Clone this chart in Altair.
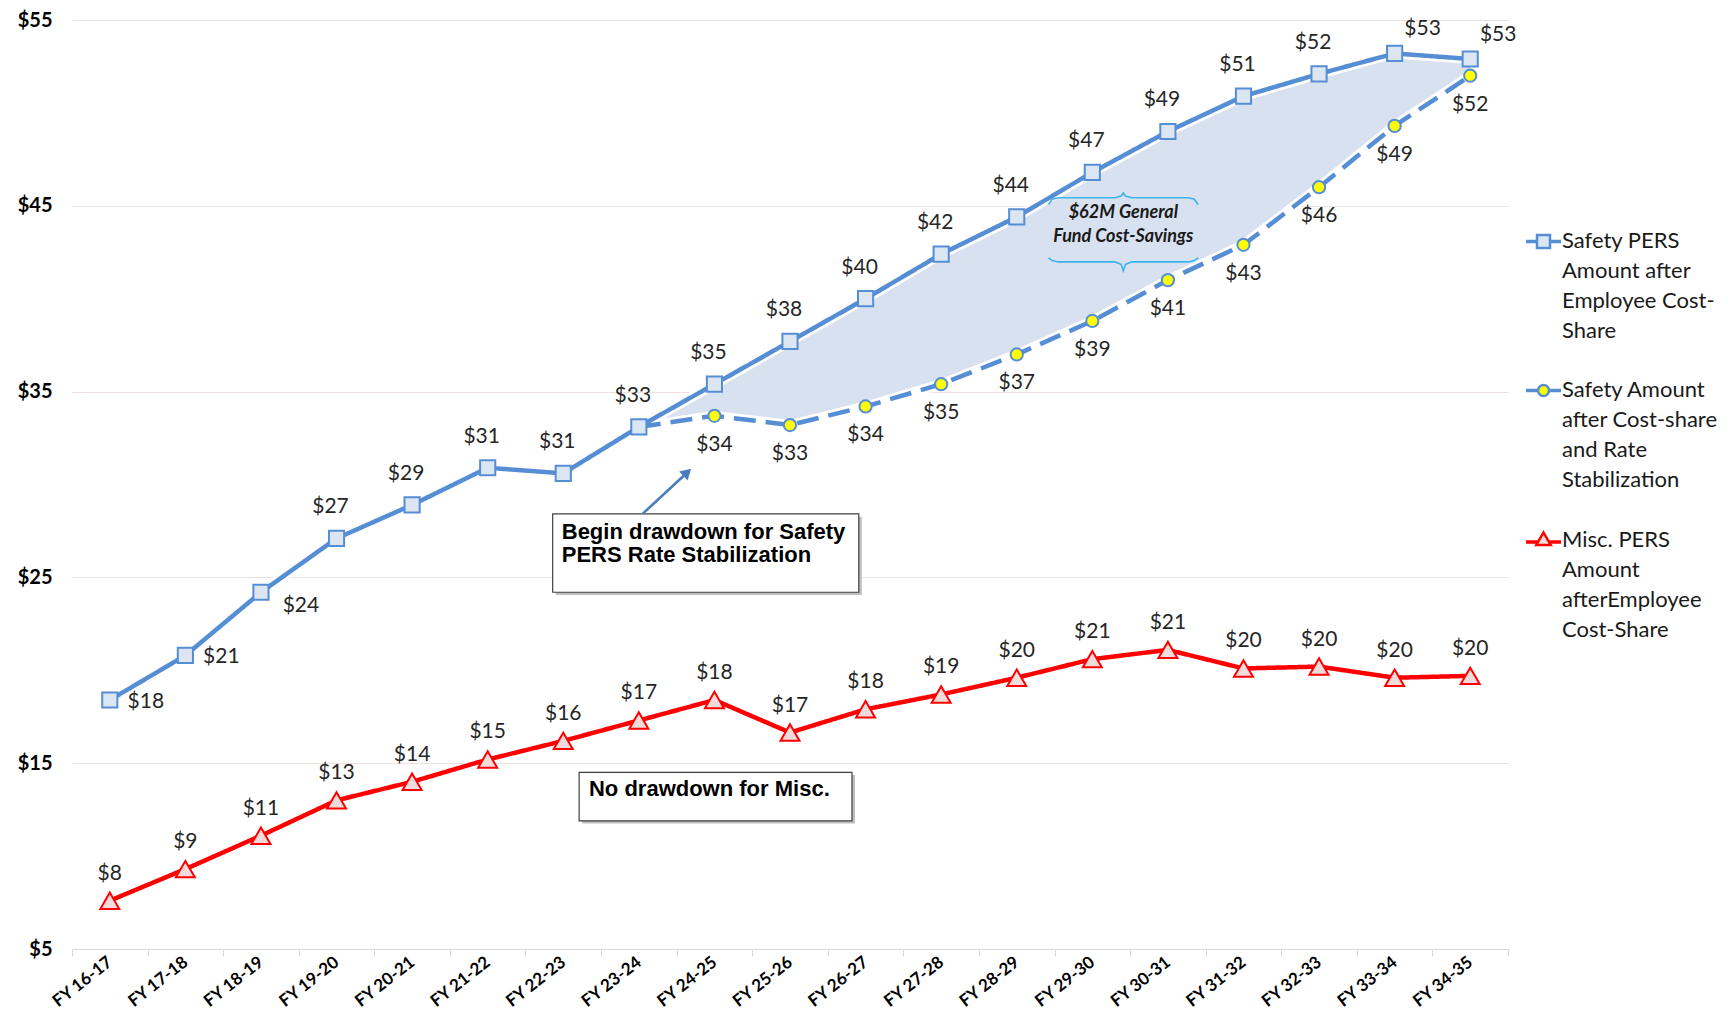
import altair as alt
import pandas as pd

# ---------------- data ----------------
years = ["FY 16-17", "FY 17-18", "FY 18-19", "FY 19-20", "FY 20-21", "FY 21-22",
         "FY 22-23", "FY 23-24", "FY 24-25", "FY 25-26", "FY 26-27", "FY 27-28",
         "FY 28-29", "FY 29-30", "FY 30-31", "FY 31-32", "FY 32-33", "FY 33-34",
         "FY 34-35"]
safety = [18.4, 20.8, 24.2, 27.1, 28.9, 30.9, 30.6, 33.1, 35.4, 37.7, 40.0, 42.4,
          44.4, 46.8, 49.0, 50.9, 52.1, 53.2, 52.9]
stab_years = ["FY 23-24", "FY 24-25", "FY 25-26", "FY 26-27", "FY 27-28", "FY 28-29",
              "FY 29-30", "FY 30-31", "FY 31-32", "FY 32-33", "FY 33-34", "FY 34-35"]
stabilized = [33.1, 33.7, 33.2, 34.2, 35.4, 37.0, 38.8, 41.0, 42.9, 46.0, 49.3, 52.0]
misc = [7.6, 9.3, 11.1, 13.0, 14.0, 15.2, 16.2, 17.3, 18.4, 16.65, 17.9, 18.7, 19.6,
        20.6, 21.1, 20.1, 20.2, 19.6, 19.7]

series_names = ["Safety PERS Amount after Employee Cost-Share",
                "Safety Amount after Cost-share and Rate Stabilization",
                "Misc. PERS Amount afterEmployee Cost-Share"]
legend_lines = [["Safety PERS", "Amount after", "Employee Cost-", "Share"],
                ["Safety Amount", "after Cost-share", "and Rate", "Stabilization"],
                ["Misc. PERS", "Amount", "afterEmployee", "Cost-Share"]]

y_ticks = [5, 15, 25, 35, 45, 55]

# label placement keywords (style, not data)
safety_pos = ["right", "right", "lowright"] + ["above"] * 14 + ["aboveright"] * 2
label_offsets = {"right": (36, 2), "lowright": (40, 14), "aboveright": (28, -24),
                 "above": (-6, -31), "below": (0, 29), "above_m": (0, -27)}

# annotation texts
box_texts = [("Begin drawdown for Safety", 5.98, 27.45),
             ("PERS Rate Stabilization", 5.98, 26.2),
             ("No drawdown for Misc.", 6.34, 13.6)]
savings_texts = [("$62M General", 13.41, 44.62), ("Fund Cost-Savings", 13.41, 43.33)]

# ---------------- tables ----------------
rows = []
for y, v, p in zip(years, safety, safety_pos):
    rows.append(dict(year=y, value=v, series=series_names[0], marker=True, pos=p))
for i, (y, v) in enumerate(zip(stab_years, stabilized)):
    rows.append(dict(year=y, value=v, series=series_names[1], marker=i > 0, pos="below"))
for y, v in zip(years, misc):
    rows.append(dict(year=y, value=v, series=series_names[2], marker=True, pos="above_m"))
df = pd.DataFrame(rows)

area_df = pd.DataFrame({"year": stab_years,
                        "top": safety[years.index("FY 23-24"):],
                        "bottom": stabilized})

BLUE = "#558ed5"
RED = "#ff0000"
FILLS = ["#dce6f2", "#ffff00", "#f2dcdb"]
STROKES = [BLUE, BLUE, RED]

x_axis = alt.Axis(title=None, tickBand="extent", domainColor="#d9d9d9", tickColor="#d9d9d9",
                  tickSize=7, grid=False, labelAngle=-38, labelAlign="right",
                  labelBaseline="middle", labelPadding=4, labelFont="Lato",
                  labelFontWeight="bold", labelFontSize=17, labelColor="#000000")
y_axis = alt.Axis(title=None, values=y_ticks, labelExpr="'$' + datum.value", ticks=False,
                  domain=False, grid=True, gridColor="#f1dede", gridWidth=1,
                  labelFont="Lato", labelFontWeight="bold", labelFontSize=20,
                  labelColor="#000000", labelPadding=20)

X = alt.X("year:N", sort=years,
          scale=alt.Scale(type="band", domain=years, paddingInner=0, paddingOuter=0),
          axis=x_axis)
Yscale = alt.Scale(domain=[5, 55], nice=False, zero=False)
Y = alt.Y("value:Q", scale=Yscale, axis=y_axis)

color = alt.Color("series:N", scale=alt.Scale(domain=series_names, range=STROKES), legend=None)
dash = alt.StrokeDash("series:N", scale=alt.Scale(domain=series_names,
                                                  range=[[1, 0], [22, 10], [1, 0]]),
                      legend=None)

base = alt.Chart(df)

area = alt.Chart(area_df).mark_area(color="#d8e1ef", opacity=1).encode(
    x=X, y=alt.Y("top:Q", scale=Yscale, axis=y_axis), y2="bottom:Q")

halo = base.transform_filter(f"datum.series != '{series_names[2]}'").mark_line(
    color="white", strokeWidth=10).encode(x=X, y=Y, detail="series:N")

lines = base.mark_line(strokeWidth=4.5).encode(x=X, y=Y, color=color, strokeDash=dash)

marker_shapes = ["square", "circle", "triangle-up"]
marker_sizes = [230, 150, 360]
point_layers = []
for name, shp, sz, fl, st in zip(series_names, marker_shapes, marker_sizes, FILLS, STROKES):
    point_layers.append(
        base.transform_filter(f"datum.marker && datum.series == '{name}'").mark_point(
            shape=shp, size=sz, filled=False, fill=fl, stroke=st, strokeWidth=2,
            opacity=1).encode(x=X, y=Y))

text_layers = []
for key, (dx, dy) in label_offsets.items():
    text_layers.append(
        base.transform_filter(f"datum.marker && datum.pos == '{key}'").mark_text(
            dx=dx, dy=dy, font="Lato", fontSize=21, color="#262626").encode(
            x=X, y=Y, text=alt.Text("value:Q", format="$.0f")))

main = alt.layer(area, halo, lines, *point_layers, *text_layers)

# ---------------- annotations (quantitative x) ----------------
AX = alt.Scale(domain=[-0.5, 18.5], nice=False, zero=False)


def ax(f):
    return alt.X(f, type="quantitative", scale=AX, axis=None)


def ay(f):
    return alt.Y(f, type="quantitative", scale=Yscale, axis=y_axis)


boxes = pd.DataFrame({"x1": [5.86, 6.21], "x2": [9.91, 9.82],
                      "y1": [28.42, 14.51], "y2": [24.2, 11.9]})
shadow = alt.Chart(boxes).transform_calculate(
    sx1="datum.x1 + 0.04", sx2="datum.x2 + 0.04",
    sy1="datum.y1 - 0.15", sy2="datum.y2 - 0.15").mark_rect(
    fill="#bfbfbf").encode(x=ax("sx1"), x2="sx2", y=ay("sy1"), y2="sy2")
box_rects = alt.Chart(boxes).mark_rect(fill="white", stroke="#404040", strokeWidth=1.2).encode(
    x=ax("x1"), x2="x2", y=ay("y1"), y2="y2")

btxt = pd.DataFrame(box_texts, columns=["t", "x", "y"])
box_text = alt.Chart(btxt).mark_text(align="left", baseline="middle", font="Liberation Sans",
                                     fontWeight="bold", fontSize=22, color="#000000").encode(
    x=ax("x"), y=ay("y"), text="t:N")

stxt = pd.DataFrame(savings_texts, columns=["t", "x", "y"])
sav_text = alt.Chart(stxt).mark_text(align="center", baseline="middle", font="Lato",
                                     fontWeight="bold", fontStyle="italic", fontSize=18,
                                     color="#1a1a1a").encode(
    x=ax("x"), y=ay("y"), text="t:N")

brace_x = [12.42, 12.47, 12.55, 13.30, 13.38, 13.41, 13.44, 13.52, 14.27, 14.35, 14.40]
brace_top = [45.07, 45.35, 45.43, 45.43, 45.52, 45.69, 45.52, 45.43, 45.43, 45.35, 45.07]
brace_bot = [42.2, 42.05, 41.98, 41.98, 41.85, 41.5, 41.85, 41.98, 41.98, 42.05, 42.2]
br_rows = []
for i, (bx, bt, bb) in enumerate(zip(brace_x, brace_top, brace_bot)):
    br_rows.append(dict(b="top", i=i, x=bx, y=bt))
    br_rows.append(dict(b="bot", i=i, x=bx, y=bb))
braces = alt.Chart(pd.DataFrame(br_rows)).mark_line(color="#3cb3ee", strokeWidth=1.6).encode(
    x=ax("x"), y=ay("y"), detail="b:N", order="i:Q")

arrow_df = pd.DataFrame({"x": [7.05, 7.64], "y": [28.42, 30.65], "i": [0, 1]})
arrow_line = alt.Chart(arrow_df).mark_line(color="#4a7ebb", strokeWidth=2.6).encode(
    x=ax("x"), y=ay("y"), order="i:Q")
arrow_head = alt.Chart(arrow_df).transform_filter("datum.i == 1").mark_point(
    shape="triangle-up", angle=47, filled=True, size=150, color="#4a7ebb", opacity=1).encode(
    x=ax("x"), y=ay("y"))

ann = alt.layer(shadow, box_rects, box_text, braces, sav_text, arrow_line, arrow_head)

# ---------------- legend (own scales, no drawn marks) ----------------
expr_parts = []
for name, lns in zip(series_names[:-1], legend_lines[:-1]):
    arr = "[" + ",".join("'" + s + "'" for s in lns) + "]"
    expr_parts.append(f"datum.label == '{name}' ? {arr} : ")
last_arr = "[" + ",".join("'" + s + "'" for s in legend_lines[-1]) + "]"
label_expr = "".join(expr_parts) + last_arr

c = -0.6  # vertical shift of the legend glyph so it sits on the first text line
stub = (f"M-1.75,{c-0.05:.2f} L-0.65,{c-0.05:.2f} M-1.75,{c+0.05:.2f} L-0.65,{c+0.05:.2f} "
        f"M0.65,{c-0.05:.2f} L1.75,{c-0.05:.2f} M0.65,{c+0.05:.2f} L1.75,{c+0.05:.2f} ")
sq_path = stub + f"M-0.65,{c-0.65:.2f} L0.65,{c-0.65:.2f} L0.65,{c+0.65:.2f} L-0.65,{c+0.65:.2f} Z"
ci_path = stub + (f"M-0.55,{c:.2f} A0.55,0.55 0 1 1 0.55,{c:.2f} "
                  f"A0.55,0.55 0 1 1 -0.55,{c:.2f} Z")
t = c + 0.15
stub_t = (f"M-1.75,{t-0.05:.2f} L-0.6,{t-0.05:.2f} M-1.75,{t+0.05:.2f} L-0.6,{t+0.05:.2f} "
          f"M0.6,{t-0.05:.2f} L1.75,{t-0.05:.2f} M0.6,{t+0.05:.2f} L1.75,{t+0.05:.2f} ")
tr_path = stub_t + f"M0,{c-0.8:.2f} L0.72,{c+0.45:.2f} L-0.72,{c+0.45:.2f} Z"

legend = alt.Legend(title=None, orient="none", legendX=1460, legendY=216,
                    labelExpr=label_expr, labelFont="Lato", labelFontSize=22,
                    labelColor="#1a1a1a", labelLimit=400, labelBaseline="alphabetic",
                    labelOffset=7, symbolSize=400, symbolStrokeWidth=2.5,
                    rowPadding=36, padding=0)

legend_layer = alt.Chart(df).transform_filter("false").mark_point(
    filled=False, opacity=1, strokeWidth=2.5).encode(
    color=alt.Color("series:N", scale=alt.Scale(domain=series_names, range=STROKES),
                    legend=legend),
    fill=alt.Fill("series:N", scale=alt.Scale(domain=series_names, range=FILLS),
                  legend=legend),
    shape=alt.Shape("series:N", scale=alt.Scale(domain=series_names,
                                                range=[sq_path, ci_path, tr_path]),
                    legend=legend),
)

chart = alt.layer(main, ann, legend_layer).resolve_scale(
    x="independent", color="independent", fill="independent", shape="independent"
).properties(
    width=1436, height=929,
    padding={"left": 64, "top": 12, "right": 220, "bottom": 65},
    autosize=alt.AutoSizeParams(type="none"),
).configure(
    style={"guide-label": {"lineHeight": 30}},
    view=alt.ViewConfig(stroke="transparent"),
)

chart.save("out.html", embed_options={"renderer": "svg", "actions": False})
